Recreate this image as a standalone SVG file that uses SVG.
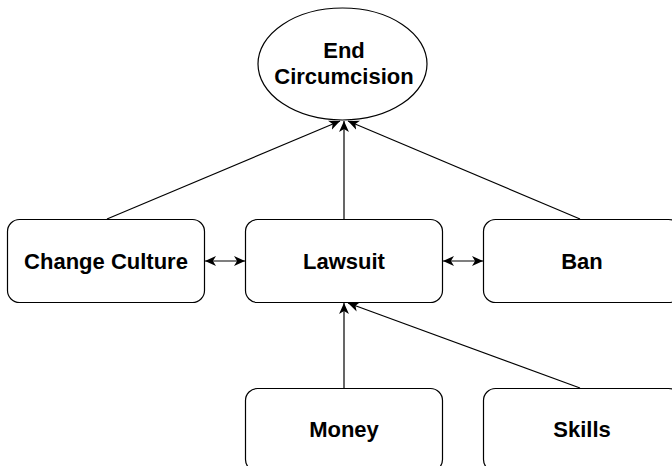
<svg xmlns="http://www.w3.org/2000/svg" width="672" height="466" viewBox="0 0 672 466">
<style>
.box{fill:#fff;stroke:#000;stroke-width:1.2}
.lbl{font-family:"Liberation Sans",Arial,Helvetica,sans-serif;font-weight:bold;font-size:22px;fill:#000;text-anchor:middle}
.edge{fill:none;stroke:#000;stroke-width:1.2}
</style>
<defs>
<marker id="arr" viewBox="0 0 10 10" refX="10" refY="5" markerWidth="11" markerHeight="11" markerUnits="userSpaceOnUse" orient="auto-start-reverse">
<path d="M0,0.5 L10,5 L0,9.5 L2.8,5 z" fill="#000"/>
</marker>
</defs>
<rect width="672" height="466" fill="#fff"/>
<g id="connectors">
<line class="edge" x1="107" y1="219" x2="340" y2="121" marker-end="url(#arr)"/>
<line class="edge" x1="344" y1="219" x2="344" y2="121" marker-end="url(#arr)"/>
<line class="edge" x1="580" y1="219" x2="348" y2="121" marker-end="url(#arr)"/>
<line class="edge" x1="344" y1="388" x2="344" y2="303" marker-end="url(#arr)"/>
<line class="edge" x1="580" y1="388" x2="348" y2="303" marker-end="url(#arr)"/>
<line class="edge" x1="205" y1="261" x2="245" y2="261" marker-start="url(#arr)" marker-end="url(#arr)"/>
<line class="edge" x1="443" y1="261" x2="483" y2="261" marker-start="url(#arr)" marker-end="url(#arr)"/>
</g>
<g id="end-circumcision">
<ellipse class="box" cx="342.5" cy="64" rx="84.5" ry="56"/>
<text class="lbl" x="344" y="57.5">End</text>
<text class="lbl" x="344" y="83.5">Circumcision</text>
</g>
<g id="change-culture">
<rect class="box" x="7.5" y="219.5" width="197" height="83" rx="12"/>
<text class="lbl" x="106" y="268.5">Change Culture</text>
</g>
<g id="lawsuit">
<rect class="box" x="245.5" y="219.5" width="197" height="83" rx="12"/>
<text class="lbl" x="344" y="268.5">Lawsuit</text>
</g>
<g id="ban">
<rect class="box" x="483.5" y="219.5" width="197" height="83" rx="12"/>
<text class="lbl" x="582" y="268.5">Ban</text>
</g>
<g id="money">
<rect class="box" x="245.5" y="388.5" width="197" height="83" rx="12"/>
<text class="lbl" x="344" y="437">Money</text>
</g>
<g id="skills">
<rect class="box" x="483.5" y="388.5" width="197" height="83" rx="12"/>
<text class="lbl" x="582" y="437">Skills</text>
</g>
</svg>
